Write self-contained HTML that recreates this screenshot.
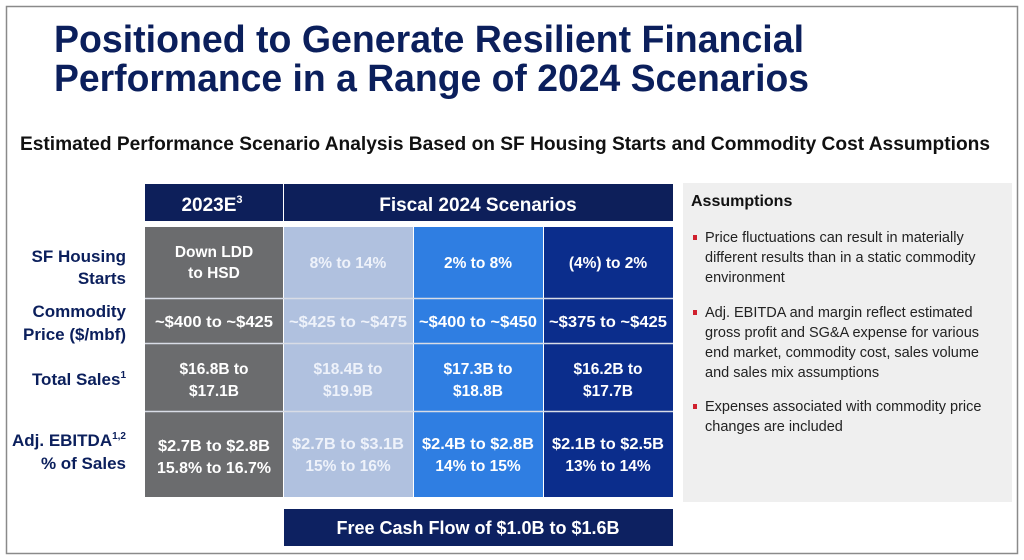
<!DOCTYPE html>
<html><head><meta charset="utf-8"><style>
html,body{margin:0;padding:0;background:#fff;}
svg{display:block;}
text{font-family:"Liberation Sans",Arial,sans-serif;}
</style></head><body>
<svg width="1024" height="560" viewBox="0 0 1024 560" xmlns="http://www.w3.org/2000/svg">
<rect x="0" y="0" width="1024" height="560" fill="#fff"/>
<rect x="6.5" y="6.5" width="1011" height="547" fill="none" stroke="#8a8a8a" stroke-width="1.5"/>
<g font-weight="bold" fill="#0b1f5c" font-size="38">
<text x="54" y="52" textLength="750" lengthAdjust="spacingAndGlyphs">Positioned to Generate Resilient Financial</text>
<text x="54" y="91" textLength="755" lengthAdjust="spacingAndGlyphs">Performance in a Range of 2024 Scenarios</text>
</g>
<text x="20" y="150" font-size="19" font-weight="bold" fill="#111" textLength="970" lengthAdjust="spacingAndGlyphs">Estimated Performance Scenario Analysis Based on SF Housing Starts and Commodity Cost Assumptions</text>

<rect x="145" y="184" width="138" height="37" fill="#0d1f5a"/>
<rect x="284" y="184" width="389" height="37" fill="#0d1f5a"/>
<text x="212" y="211" font-size="19" font-weight="bold" fill="#fff" text-anchor="middle">2023E<tspan font-size="11" dy="-8">3</tspan></text>
<text x="478" y="211" font-size="19" font-weight="bold" fill="#fff" text-anchor="middle">Fiscal 2024 Scenarios</text>

<g>
<rect x="145" y="227" width="138" height="270" fill="#6b6c6e"/>
<rect x="284" y="227" width="129" height="270" fill="#b0c1df"/>
<rect x="414" y="227" width="129" height="270" fill="#2f7ee2"/>
<rect x="544" y="227" width="129" height="270" fill="#0b2d8c"/>
<g stroke="#d8dce6" stroke-width="1.5">
<line x1="145" y1="298.5" x2="673" y2="298.5"/>
<line x1="145" y1="343.5" x2="673" y2="343.5"/>
<line x1="145" y1="411.5" x2="673" y2="411.5"/>
</g>
</g>

<g font-size="17" font-weight="bold" fill="#0b1f5c" text-anchor="end">
<text x="126" y="262">SF Housing</text>
<text x="126" y="284">Starts</text>
<text x="126" y="317">Commodity</text>
<text x="126" y="340">Price ($/mbf)</text>
<text x="126" y="385">Total Sales<tspan font-size="10" dy="-7">1</tspan></text>
<text x="126" y="446">Adj. EBITDA<tspan font-size="10" dy="-7">1,2</tspan></text>
<text x="126" y="469">% of Sales</text>
</g>

<g font-size="15.5" font-weight="bold" fill="#fff" text-anchor="middle">
<text x="214" y="257">Down LDD</text>
<text x="214" y="278">to HSD</text>
<text x="348" y="268" fill="#eef2fa">8% to 14%</text>
<text x="478" y="268">2% to 8%</text>
<text x="608" y="268">(4%) to 2%</text>

<text x="214" y="327" textLength="118" lengthAdjust="spacingAndGlyphs">~$400 to ~$425</text>
<text x="348" y="327" fill="#eef2fa" textLength="118" lengthAdjust="spacingAndGlyphs">~$425 to ~$475</text>
<text x="478" y="327" textLength="118" lengthAdjust="spacingAndGlyphs">~$400 to ~$450</text>
<text x="608" y="327" textLength="118" lengthAdjust="spacingAndGlyphs">~$375 to ~$425</text>

<text x="214" y="374">$16.8B to</text>
<text x="214" y="396">$17.1B</text>
<text x="348" y="374" fill="#eef2fa">$18.4B to</text>
<text x="348" y="396" fill="#eef2fa">$19.9B</text>
<text x="478" y="374">$17.3B to</text>
<text x="478" y="396">$18.8B</text>
<text x="608" y="374">$16.2B to</text>
<text x="608" y="396">$17.7B</text>

<text x="214" y="451" textLength="112" lengthAdjust="spacingAndGlyphs">$2.7B to $2.8B</text>
<text x="214" y="473" textLength="114" lengthAdjust="spacingAndGlyphs">15.8% to 16.7%</text>
<text x="348" y="449" fill="#eef2fa" textLength="112" lengthAdjust="spacingAndGlyphs">$2.7B to $3.1B</text>
<text x="348" y="471" fill="#eef2fa">15% to 16%</text>
<text x="478" y="449" textLength="112" lengthAdjust="spacingAndGlyphs">$2.4B to $2.8B</text>
<text x="478" y="471">14% to 15%</text>
<text x="608" y="449" textLength="112" lengthAdjust="spacingAndGlyphs">$2.1B to $2.5B</text>
<text x="608" y="471">13% to 14%</text>
</g>

<rect x="284" y="509" width="389" height="37" fill="#0d2161"/>
<text x="478" y="534" font-size="18" font-weight="bold" fill="#fff" text-anchor="middle">Free Cash Flow of $1.0B to $1.6B</text>

<rect x="683" y="183" width="329" height="319" fill="#efefef"/>
<text x="691" y="206" font-size="16" font-weight="bold" fill="#111">Assumptions</text>
<g fill="#d0202e">
<rect x="693" y="235" width="4" height="5"/>
<rect x="693" y="310" width="4" height="5"/>
<rect x="693" y="404" width="4" height="5"/>
</g>
<g font-size="14.5" fill="#222">
<text x="705" y="242">Price fluctuations can result in materially</text>
<text x="705" y="262">different results than in a static commodity</text>
<text x="705" y="282">environment</text>
<text x="705" y="317">Adj. EBITDA and margin reflect estimated</text>
<text x="705" y="337">gross profit and SG&amp;A expense for various</text>
<text x="705" y="357">end market, commodity cost, sales volume</text>
<text x="705" y="377">and sales mix assumptions</text>
<text x="705" y="411">Expenses associated with commodity price</text>
<text x="705" y="431">changes are included</text>
</g>
</svg>
</body></html>
